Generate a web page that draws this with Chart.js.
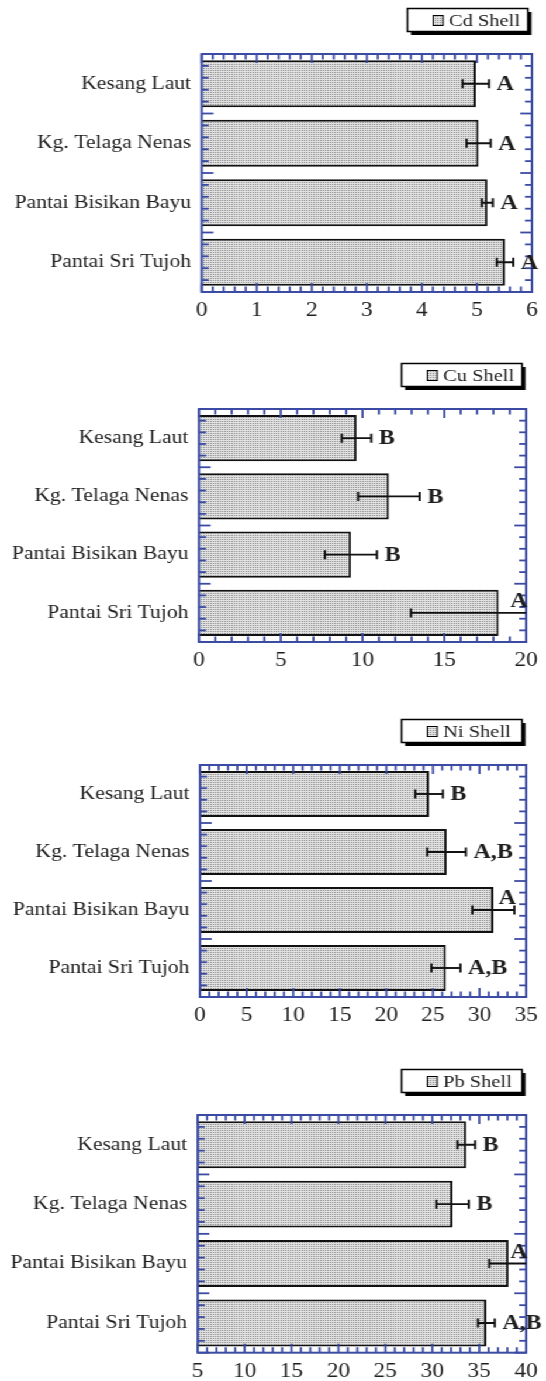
<!DOCTYPE html>
<html><head><meta charset="utf-8">
<script src="https://cdn.jsdelivr.net/npm/chart.js@4.4.1/dist/chart.umd.min.js"></script>
<style>
html,body{margin:0;padding:0;background:#fff;width:546px;height:1381px;overflow:hidden;}
#wrap{position:absolute;left:0;top:0;width:467px;height:1381px;transform:scaleX(1.16916);transform-origin:0 0;}
canvas{position:absolute;left:0;}
</style></head><body>
<div id="wrap">
<canvas id="c1" width="467" height="330" style="top:0px"></canvas>
<canvas id="c2" width="467" height="330" style="top:345px"></canvas>
<canvas id="c3" width="467" height="330" style="top:700px"></canvas>
<canvas id="c4" width="467" height="341" style="top:1040px"></canvas>
</div>
<script>
// ---- data ----
const sites = ['Kesang Laut', 'Kg. Telaga Nenas', 'Pantai Bisikan Bayu', 'Pantai Sri Tujoh'];

const cdValues = [4.98, 5.03, 5.19, 5.51];
const cdErrors = [0.24, 0.22, 0.10, 0.15];
const cdGroups = ['A', 'A', 'A', 'A'];
const cdTicks  = [0, 1, 2, 3, 4, 5, 6];

const cuValues = [9.63, 11.61, 9.29, 18.32];
const cuErrors = [0.90, 1.88, 1.59, 5.36];
const cuGroups = ['B', 'B', 'B', 'A'];
const cuTicks  = [0, 5, 10, 15, 20];

const niValues = [24.58, 26.46, 31.49, 26.39];
const niErrors = [1.48, 2.08, 2.25, 1.56];
const niGroups = ['B', 'A,B', 'A', 'A,B'];
const niTicks  = [0, 5, 10, 15, 20, 25, 30, 35];

const pbValues = [33.62, 32.16, 38.12, 35.76];
const pbErrors = [0.94, 1.73, 2.05, 0.90];
const pbGroups = ['B', 'B', 'A', 'A,B'];
const pbTicks  = [5, 10, 15, 20, 25, 30, 35, 40];

// ---- styling ----
const BLUE = '#3b4ba3';
const INK = '#1e1e1e';
const SERIF = "'Liberation Serif', 'Times New Roman', serif";

function makePattern() {
  const c = document.createElement('canvas');
  c.width = 2; c.height = 2;
  const g = c.getContext('2d');
  g.fillStyle = '#e2e2e2'; g.fillRect(0, 0, 2, 2);
  g.fillStyle = '#8a8a8a'; g.fillRect(0, 0, 1, 1);
  return g.createPattern(c, 'repeat');
}
const stipple = makePattern();

function line(ctx, x1, y1, x2, y2) {
  ctx.beginPath(); ctx.moveTo(x1, y1); ctx.lineTo(x2, y2); ctx.stroke();
}

const decoPlugin = {
  id: 'deco',
  afterDatasetsDraw(chart) {
    const o = chart.options.plugins.deco;
    const ctx = chart.ctx, a = chart.chartArea, xs = chart.scales.x, ys = chart.scales.y;
    ctx.save();
    // frame ticks
    ctx.strokeStyle = BLUE; ctx.lineWidth = 1.8;
    const t = o.ticks, major = t[1] - t[0];
    const n = Math.round((t[t.length - 1] - t[0]) / o.minor);
    for (let k = 0; k <= n; k++) {
      const v = t[0] + k * o.minor;
      const px = xs.getPixelForValue(v);
      const r = (v - t[0]) / major;
      const isMajor = Math.abs(r - Math.round(r)) < 1e-6;
      const L = isMajor ? 9 : 5.5;
      line(ctx, px, a.top, px, a.top + L);
      line(ctx, px, a.bottom, px, a.bottom - L);
    }
    const nb = chart.data.labels.length, bh = (a.bottom - a.top) / nb;
    for (let k = 0; k <= nb * 5; k++) {
      const py = a.top + k * bh / 5;
      const L = (k % 5 === 0) ? 10 : 6;
      line(ctx, a.left, py, a.left + L, py);
      line(ctx, a.right, py, a.right - L, py);
    }
    ctx.lineWidth = 2;
    ctx.strokeRect(a.left, a.top, a.right - a.left, a.bottom - a.top);

    // error bars
    const ds = chart.data.datasets[0];
    ctx.save();
    ctx.beginPath(); ctx.rect(a.left, a.top - 30, a.right - a.left, a.bottom - a.top + 60); ctx.clip();
    ctx.strokeStyle = '#111'; ctx.lineWidth = 1.9;
    const ends = [];
    ds.data.forEach((v, i) => {
      const e = o.errors[i];
      const y = ys.getPixelForValue(i);
      const x1 = xs.getPixelForValue(v - e), x2 = xs.getPixelForValue(v + e);
      line(ctx, x1, y, x2, y);
      line(ctx, x1, y - 4.5, x1, y + 4.5);
      line(ctx, x2, y - 4.5, x2, y + 4.5);
      ends.push({x: x2, y: y});
    });
    ctx.restore();

    // group letters
    ctx.fillStyle = INK;
    ctx.font = 'bold 20.5px ' + SERIF;
    ctx.textBaseline = 'middle';
    ends.forEach((p, i) => {
      const txt = o.groups[i];
      if (a.right - p.x < 12.8) {
        ctx.textAlign = 'center';
        ctx.fillText(txt, Math.min(p.x, a.right) - 6, p.y - 11);
      } else {
        ctx.textAlign = 'left';
        ctx.fillText(txt, p.x + 6.5, p.y + 1);
      }
    });

    // legend box
    const bw = 103, bhL = 23;
    const bx = a.right - 3.5 - bw, by = a.top - 45.5;
    ctx.fillStyle = '#000';
    ctx.fillRect(bx + 3, by + 3.5, bw, bhL);
    ctx.fillStyle = '#fff';
    ctx.fillRect(bx, by, bw, bhL);
    ctx.strokeStyle = '#000'; ctx.lineWidth = 1.5;
    ctx.strokeRect(bx, by, bw, bhL);
    ctx.fillStyle = stipple;
    ctx.fillRect(bx + 22, by + 7, 8.5, 10);
    ctx.lineWidth = 1;
    ctx.strokeRect(bx + 22, by + 7, 8.5, 10);
    ctx.fillStyle = INK;
    ctx.font = '17.5px ' + SERIF;
    ctx.textAlign = 'left';
    ctx.fillText(o.legend, bx + 35.5, by + bhL / 2 + 1);
    ctx.restore();
  }
};

const panels = [
  {id: 'c1', legend: 'Cd Shell', values: cdValues, errors: cdErrors, groups: cdGroups, ticks: cdTicks, minor: 0.2,
   pad: {top: 54, bottom: 12, right: 9.4}, yWidth: 172.5},
  {id: 'c2', legend: 'Cu Shell', values: cuValues, errors: cuErrors, groups: cuGroups, ticks: cuTicks, minor: 1,
   pad: {top: 64, bottom: 7, right: 9.4}, yWidth: 170.2},
  {id: 'c3', legend: 'Ni Shell', values: niValues, errors: niErrors, groups: niGroups, ticks: niTicks, minor: 1,
   pad: {top: 65, bottom: 7, right: 8.6}, yWidth: 171.1},
  {id: 'c4', legend: 'Pb Shell', values: pbValues, errors: pbErrors, groups: pbGroups, ticks: pbTicks, minor: 1,
   pad: {top: 75, bottom: 2.3, right: 10.3}, yWidth: 169.1}
];

panels.forEach(p => {
  new Chart(document.getElementById(p.id), {
    type: 'bar',
    data: {
      labels: sites,
      datasets: [{
        label: p.legend,
        data: p.values,
        base: p.ticks[0],
        backgroundColor: stipple,
        borderColor: '#111',
        borderWidth: 2,
        borderSkipped: 'start',
        barPercentage: 0.79,
        categoryPercentage: 1
      }]
    },
    options: {
      indexAxis: 'y',
      responsive: false,
      animation: false,
      devicePixelRatio: 1,
      layout: {padding: {left: 0, top: p.pad.top, bottom: p.pad.bottom, right: p.pad.right}},
      plugins: {
        legend: {display: false},
        tooltip: {enabled: false},
        deco: {errors: p.errors, groups: p.groups, ticks: p.ticks, minor: p.minor, legend: p.legend}
      },
      scales: {
        x: {
          type: 'linear',
          min: p.ticks[0], max: p.ticks[p.ticks.length - 1],
          afterBuildTicks: s => { s.ticks = p.ticks.map(v => ({value: v})); },
          afterFit: s => { s.height = 26; },
          grid: {display: false, drawTicks: false},
          border: {display: false},
          ticks: {autoSkip: false, maxRotation: 0, padding: 7, color: INK, font: {family: SERIF, size: 20}}
        },
        y: {
          afterFit: s => { s.width = p.yWidth; },
          grid: {display: false, drawTicks: false},
          border: {display: false},
          ticks: {autoSkip: false, padding: 9, color: INK, font: {family: SERIF, size: 18.5}}
        }
      }
    },
    plugins: [decoPlugin]
  });
});
</script>
</body></html>
